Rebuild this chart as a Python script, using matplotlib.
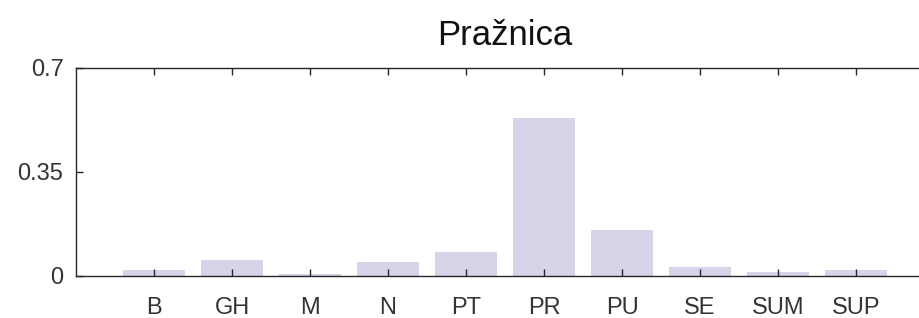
import numpy as np
import matplotlib
matplotlib.use("Agg")
import matplotlib.pyplot as plt

# data
categories = ["B", "GH", "M", "N", "PT", "PR", "PU", "SE", "SUM", "SUP"]
values = [0.020, 0.054, 0.008, 0.046, 0.081, 0.529, 0.154, 0.029, 0.012, 0.020]
yticks = [0, 0.35, 0.7]
ytick_labels = ["0", "0.35", "0.7"]

plt.rcParams['font.family'] = ['Liberation Sans', 'DejaVu Sans']
dark = '#262626'

fig = plt.figure(figsize=(9.19, 3.18), dpi=100)
# axes runs past the right edge, as in the reference
ax = fig.add_axes([76 / 919, 1 - 276 / 318, 858 / 919, 208.5 / 318])

x = np.arange(1, len(categories) + 1)
ax.bar(x, values, width=0.8, color='#d6d4e8', edgecolor='none', zorder=1)

ax.set_xlim(0, 11)
ax.set_ylim(0, 0.7)
ax.set_xticks(x)
ax.set_xticklabels(categories)
ax.set_yticks(yticks)
ax.set_yticklabels(ytick_labels)

ax.tick_params(axis='x', direction='in', length=5, width=1, colors=dark,
               labelsize=17, pad=15, top=True, labelcolor='#333333')
ax.tick_params(axis='y', direction='in', length=5, width=1, colors=dark,
               labelsize=17, pad=9, right=False, labelcolor='#333333')
for s in ax.spines.values():
    s.set_color(dark)
    s.set_linewidth(1)
    s.set_zorder(3)

ax.set_title("Pražnica", fontsize=25, color='#111111', pad=16)

fig.savefig("out.png", dpi=100)
